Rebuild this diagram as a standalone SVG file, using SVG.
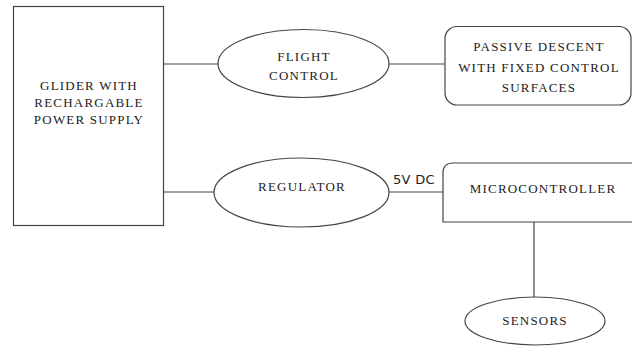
<svg xmlns="http://www.w3.org/2000/svg" width="632" height="347" viewBox="0 0 632 347">
<style>
.s{fill:#fff;stroke:#444;stroke-width:1.2}
.c{fill:none;stroke:#444;stroke-width:1.2}
</style>
<rect width="632" height="347" fill="#fff"/>
<g id="connectors">
<line class="c" x1="163.5" y1="64" x2="218" y2="64"/>
<line class="c" x1="389" y1="64" x2="445" y2="64"/>
<line class="c" x1="163.5" y1="192" x2="214" y2="192"/>
<line class="c" x1="389" y1="192" x2="443" y2="192"/>
<line class="c" x1="534" y1="222" x2="534" y2="297"/>
<text x="393" y="184" font-family="DejaVu Sans" font-size="13" letter-spacing="0.3" fill="#222">5V DC</text>
</g>
<g id="glider">
<rect class="s" x="13.5" y="6.5" width="150" height="219"/>
<text x="89" y="90" font-family="Liberation Serif" font-size="13" letter-spacing="1.2" fill="#222" text-anchor="middle">GLIDER WITH</text>
<text x="89" y="107" font-family="Liberation Serif" font-size="13" letter-spacing="1.2" fill="#222" text-anchor="middle">RECHARGABLE</text>
<text x="89" y="124" font-family="Liberation Serif" font-size="13" letter-spacing="1.2" fill="#222" text-anchor="middle">POWER SUPPLY</text>
</g>
<g id="flight-control">
<ellipse class="s" cx="303.5" cy="63.5" rx="85.5" ry="34"/>
<text x="304" y="60.5" font-family="Liberation Serif" font-size="13" letter-spacing="1.2" fill="#222" text-anchor="middle">FLIGHT</text>
<text x="304" y="80" font-family="Liberation Serif" font-size="13" letter-spacing="1.2" fill="#222" text-anchor="middle">CONTROL</text>
</g>
<g id="passive-descent">
<rect class="s" x="445" y="26.5" width="186" height="78.5" rx="12"/>
<text x="539" y="50.5" font-family="Liberation Serif" font-size="13" letter-spacing="1.2" fill="#222" text-anchor="middle">PASSIVE DESCENT</text>
<text x="539" y="71.5" font-family="Liberation Serif" font-size="13" letter-spacing="1.2" fill="#222" text-anchor="middle">WITH FIXED CONTROL</text>
<text x="539" y="91.5" font-family="Liberation Serif" font-size="13" letter-spacing="1.2" fill="#222" text-anchor="middle">SURFACES</text>
</g>
<g id="regulator">
<ellipse class="s" cx="301.5" cy="192.5" rx="87.5" ry="34.5"/>
<text x="302" y="191" font-family="Liberation Serif" font-size="13" letter-spacing="1.2" fill="#222" text-anchor="middle">REGULATOR</text>
</g>
<g id="microcontroller">
<path class="s" d="M 640 163 H 453 Q 443 163 443 173 V 222 H 640"/>
<text x="543" y="193" font-family="Liberation Serif" font-size="13" letter-spacing="1.2" fill="#222" text-anchor="middle">MICROCONTROLLER</text>
</g>
<g id="sensors">
<ellipse class="s" cx="535" cy="321" rx="70" ry="24"/>
<text x="535" y="325" font-family="Liberation Serif" font-size="13" letter-spacing="1.2" fill="#222" text-anchor="middle">SENSORS</text>
</g>
</svg>
